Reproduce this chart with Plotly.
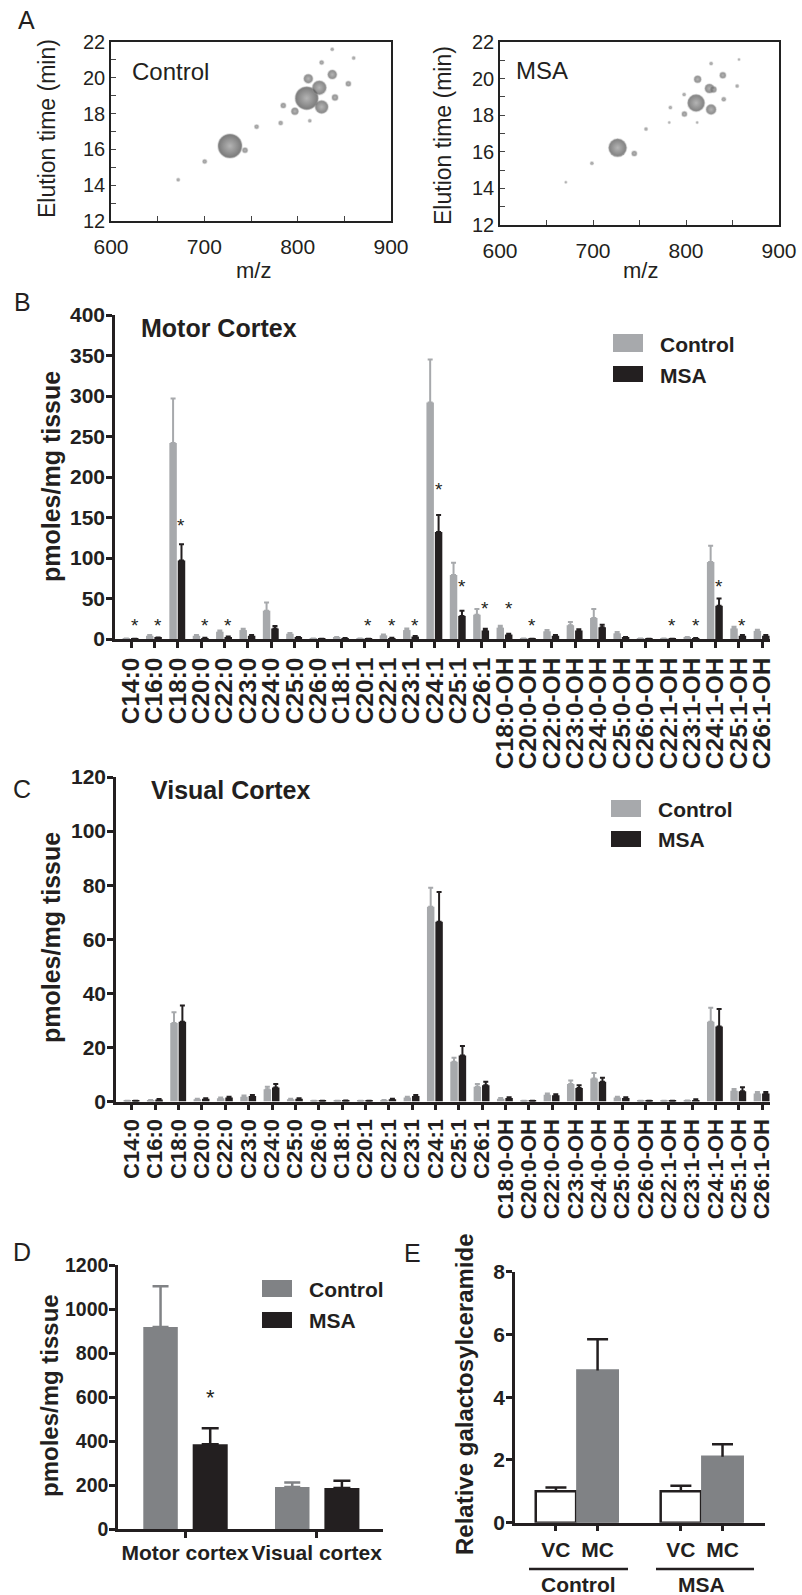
import plotly.graph_objects as go

W, H = 802, 1595
def px(x): return x / W
def py(y): return 1 - y / H

FONT = "Liberation Sans, Arial, Helvetica, sans-serif"
BLACK = "#231f20"
LGRAY = "#a7a9ac"
MGRAY = "#808285"

# ---------------- Panel A: LC-MS maps (m/z, elution time, relative intensity)
ctrl_mz = [727.5, 743.6, 700.4, 672.0, 756.0, 781.8, 784.6, 797.0, 809.7, 811.4, 823.2, 825.7, 837.1, 840.0, 825.7, 854.3, 860.0, 837.0, 813.0]
ctrl_t = [16.19, 15.95, 15.32, 14.30, 17.27, 17.47, 18.45, 18.13, 18.86, 19.95, 19.45, 18.37, 20.18, 18.90, 20.85, 19.67, 21.10, 21.60, 17.60]
ctrl_int = [24, 5, 4, 3, 4, 4, 5, 7, 23, 9, 14, 13, 9, 6, 4, 5, 3, 3, 3]

msa_mz = [726.5, 744.4, 698.8, 670.8, 757.0, 783.2, 782.0, 798.3, 798.0, 810.9, 812.5, 825.2, 829.5, 827.0, 839.6, 840.6, 827.0, 855.0, 857.0, 812.0]
msa_t = [16.22, 15.91, 15.37, 14.33, 17.24, 18.42, 17.60, 18.06, 19.13, 18.67, 19.96, 19.46, 19.40, 18.31, 20.18, 18.87, 20.82, 19.60, 21.05, 17.60]
msa_int = [18, 5, 3, 2, 3, 3, 2, 5, 3, 17, 7, 9, 6, 10, 6, 4, 3, 3, 2, 2]

# ---------------- Panels B and C: species
categories = ["C14:0", "C16:0", "C18:0", "C20:0", "C22:0", "C23:0", "C24:0", "C25:0", "C26:0",
              "C18:1", "C20:1", "C22:1", "C23:1", "C24:1", "C25:1", "C26:1",
              "C18:0-OH", "C20:0-OH", "C22:0-OH", "C23:0-OH", "C24:0-OH", "C25:0-OH", "C26:0-OH",
              "C22:1-OH", "C23:1-OH", "C24:1-OH", "C25:1-OH", "C26:1-OH"]

motor_control = [0.5, 4, 242, 4, 9, 11, 35, 6.5, 0.5, 2, 0.5, 4.5, 11, 292, 79, 30, 14, 0.5, 9.5, 17, 26, 7, 0.5, 0.5, 2, 95, 13, 10]
motor_control_err = [0.2, 1, 55, 1, 1.5, 1.5, 10, 1, 0.2, 0.5, 0.2, 1, 2, 53, 15, 7, 2.5, 0.2, 1.5, 4, 11, 1.5, 0.2, 0.2, 0.5, 20, 2, 1.5]
motor_msa = [0.3, 1.5, 97, 1.2, 2.5, 4, 13, 2, 0.3, 1, 0.3, 1.2, 3, 132, 28.5, 10.5, 5.5, 0.3, 4, 10.5, 14.5, 2, 0.3, 0.3, 1, 41, 4, 4]
motor_msa_err = [0.1, 0.3, 20, 0.3, 0.5, 0.8, 3, 0.5, 0.1, 0.2, 0.1, 0.3, 0.6, 21, 6.5, 2, 1, 0.1, 0.8, 1.5, 3, 0.5, 0.1, 0.1, 0.2, 9, 0.8, 0.8]
motor_star_cats = ["C14:0", "C16:0", "C18:0", "C20:0", "C22:0", "C20:1", "C22:1", "C23:1", "C24:1", "C25:1",
                   "C26:1", "C18:0-OH", "C20:0-OH", "C22:1-OH", "C23:1-OH", "C24:1-OH", "C25:1-OH"]
motor_star_y = [22, 22, 145, 22, 22, 22, 22, 22, 190, 70, 43, 43, 22, 22, 22, 70, 22]

visual_control = [0.2, 0.5, 29, 0.8, 1.2, 1.8, 4.5, 0.8, 0.2, 0.2, 0.2, 0.5, 1.5, 72, 14.7, 5.5, 1, 0.2, 2.5, 6.5, 8.5, 1.5, 0.2, 0.2, 0.3, 29.5, 4, 3]
visual_control_err = [0.1, 0.1, 4, 0.2, 0.3, 0.4, 1, 0.2, 0.1, 0.1, 0.1, 0.1, 0.3, 7, 1.5, 1, 0.3, 0.1, 0.5, 1.3, 2, 0.3, 0.1, 0.1, 0.1, 5.2, 0.6, 0.5]
visual_msa = [0.2, 0.7, 29.5, 1, 1.5, 2, 5.2, 1, 0.2, 0.3, 0.2, 0.8, 2, 66.5, 17, 6, 1.3, 0.2, 2.3, 5, 7.3, 1.3, 0.2, 0.2, 0.6, 27.7, 3.8, 3]
visual_msa_err = [0.1, 0.2, 6, 0.2, 0.3, 0.4, 1.3, 0.2, 0.1, 0.1, 0.1, 0.2, 0.4, 11, 3.5, 1.3, 0.3, 0.1, 0.4, 1, 1.5, 0.3, 0.1, 0.1, 0.2, 6.5, 1.5, 0.5]

# ---------------- Panel D: totals
regions = ["Motor cortex", "Visual cortex"]
total_control = [918, 192]
total_control_err = [185, 20]
total_msa = [386, 188]
total_msa_err = [73, 32]
total_star_y = [619]

# ---------------- Panel E: relative galactosylceramide
gal_pos = [0, 1, 3, 4]
gal_labels = ["VC", "MC", "VC", "MC"]
gal_values = [1.0, 4.85, 1.0, 2.1]
gal_err = [0.12, 1.0, 0.18, 0.4]
gal_groups = ["Control", "MSA"]

idx = list(range(len(categories)))

fig = go.Figure()

# ---- Panel A traces
for xa, ya, mz, t, inten in [("x", "y", ctrl_mz, ctrl_t, ctrl_int), ("x2", "y2", msa_mz, msa_t, msa_int)]:
    fig.add_trace(go.Scatter(
        x=mz, y=t, mode="markers", xaxis=xa, yaxis=ya,
        marker=dict(size=inten, sizemode="diameter", color=inten,
                    colorscale=[[0, "#9a9a9a"], [0.2, "#5e5e5e"], [1, "#404040"]],
                    cmin=0, cmax=24, line=dict(width=1.5, color="rgba(150,150,150,0.45)"),
                    gradient=dict(type="radial", color="#959595")),
        hoverinfo="skip"))

# ---- Panels B, C bars
CTRL_OFF, MSA_OFF, BW = -0.36, 0.0, 0.32
for xa, ya, c, ce, m, me in [("x3", "y3", motor_control, motor_control_err, motor_msa, motor_msa_err),
                             ("x4", "y4", visual_control, visual_control_err, visual_msa, visual_msa_err)]:
    fig.add_trace(go.Bar(x=idx, y=c, xaxis=xa, yaxis=ya, width=BW, offset=CTRL_OFF,
                         marker=dict(color=LGRAY, line=dict(width=0)),
                         error_y=dict(type="data", array=ce, arrayminus=[0] * len(ce), symmetric=False,
                                      color=LGRAY, thickness=2, width=2.5)))
    fig.add_trace(go.Bar(x=idx, y=m, xaxis=xa, yaxis=ya, width=BW, offset=MSA_OFF,
                         marker=dict(color=BLACK, line=dict(width=0)),
                         error_y=dict(type="data", array=me, arrayminus=[0] * len(me), symmetric=False,
                                      color=BLACK, thickness=2, width=2.5)))

# ---- Panel D
fig.add_trace(go.Bar(x=[0, 1], y=total_control, xaxis="x5", yaxis="y5", width=0.262, offset=-0.317,
                     marker=dict(color=MGRAY, line=dict(width=0)),
                     error_y=dict(type="data", array=total_control_err, arrayminus=[0, 0], symmetric=False,
                                  color=MGRAY, thickness=2.5, width=8)))
fig.add_trace(go.Bar(x=[0, 1], y=total_msa, xaxis="x5", yaxis="y5", width=0.266, offset=0.058,
                     marker=dict(color=BLACK, line=dict(width=0)),
                     error_y=dict(type="data", array=total_msa_err, arrayminus=[0, 0], symmetric=False,
                                  color=BLACK, thickness=2.5, width=8.5)))

# ---- Panel E (bars, then whiskers stacked on the bar tops with a cap)
fig.add_trace(go.Bar(x=gal_pos, y=gal_values, xaxis="x6", yaxis="y6", width=0.97,
                     marker=dict(color=["white", MGRAY, "white", MGRAY],
                                 line=dict(color=[BLACK, MGRAY, BLACK, MGRAY], width=2.5))))
fig.add_trace(go.Bar(x=gal_pos, y=gal_err, base=gal_values, xaxis="x6", yaxis="y6", width=0.06,
                     marker=dict(color=BLACK, line=dict(width=0)),
                     error_y=dict(type="data", array=[0] * 4, symmetric=True,
                                  color=BLACK, thickness=2.5, width=10.5)))

# ---------------- Axes
def dom_x(a, b): return [px(a), px(b)]
def dom_y(top, bottom): return [py(bottom), py(top)]

layout_axes = {}
# A left / right
for n, (x0, x1, y0, y1, xa, ya) in {"": (111, 391, 42, 221, "y", "x"), "2": (500, 779, 42, 225, "y2", "x2")}.items():
    layout_axes["xaxis" + n] = dict(domain=dom_x(x0, x1), range=[600, 900], anchor=xa, automargin=False,
                                    tickvals=[600, 700, 800, 900], ticks="inside", ticklen=5, tickwidth=1.2,
                                    minor=dict(dtick=50, tick0=600, ticks="inside", ticklen=5, tickwidth=1.2),
                                    showline=True, mirror=True, linecolor="#222", linewidth=1.5,
                                    showgrid=False, zeroline=False, tickfont=dict(family=FONT, size=21, color=BLACK),
                                    ticklabelstandoff=6)
    layout_axes["yaxis" + n] = dict(domain=dom_y(y0, y1), range=[12, 22], anchor=ya, automargin=False,
                                    tickvals=[12, 14, 16, 18, 20, 22], ticks="inside", ticklen=5, tickwidth=1.2,
                                    minor=dict(dtick=1, tick0=12, ticks="inside", ticklen=5, tickwidth=1.2),
                                    showline=True, mirror=True, linecolor="#222", linewidth=1.5,
                                    showgrid=False, zeroline=False, tickfont=dict(family=FONT, size=20, color=BLACK))

def bar_x(dom, rng, tickvals, ticktext, anchor, angle=0, size=20, standoff=0):
    return dict(domain=dom, range=rng, anchor=anchor, tickvals=tickvals, ticktext=ticktext, automargin=False,
                tickangle=angle, ticks="outside", ticklen=6, tickwidth=2.5, tickcolor=BLACK,
                showline=True, linecolor=BLACK, linewidth=2.5, showgrid=False, zeroline=False,
                tickfont=dict(family=FONT, size=size, color=BLACK, weight="bold"), ticklabelstandoff=standoff)

def bar_y(dom, rng, dtick, anchor, size=21):
    return dict(domain=dom, range=rng, anchor=anchor, tick0=0, dtick=dtick, ticks="outside", automargin=False,
                ticklen=6, tickwidth=2.5, tickcolor=BLACK, showline=True, linecolor=BLACK, linewidth=2.5,
                showgrid=False, zeroline=False, ticklabelstandoff=-3,
                tickfont=dict(family=FONT, size=size, color=BLACK, weight="bold"))

layout_axes["xaxis3"] = bar_x(dom_x(115, 770), [-0.685, 27.34], idx, categories, "y3", angle=-90, size=24.5)
layout_axes["yaxis3"] = bar_y(dom_y(315, 639), [0, 400], 50, "x3")
layout_axes["xaxis4"] = bar_x(dom_x(116, 770), [-0.685, 27.34], idx, categories, "y4", angle=-90, size=22)
layout_axes["yaxis4"] = bar_y(dom_y(777, 1101.5), [0, 120], 20, "x4")
layout_axes["xaxis5"] = bar_x(dom_x(118, 383), [-0.509, 1.503], [0, 1], regions, "y5", size=21, standoff=-3)
layout_axes["yaxis5"] = bar_y(dom_y(1265, 1529.3), [0, 1200], 200, "x5", size=19.5)
layout_axes["xaxis6"] = bar_x(dom_x(515, 765), [-0.983, 5.02], gal_pos, gal_labels, "y6", size=21, standoff=0)
layout_axes["yaxis6"] = bar_y(dom_y(1271.7, 1522.7), [0, 8], 2, "x6")

# ---------------- Annotations
ann = []
def text(x, y, s, size, bold=False, xanchor="center", yanchor="middle", angle=0):
    f = dict(family=FONT, size=size, color=BLACK)
    if bold:
        f["weight"] = "bold"
    ann.append(dict(x=px(x), y=py(y), xref="paper", yref="paper", text=s, showarrow=False,
                    xanchor=xanchor, yanchor=yanchor, textangle=angle, font=f))

# panel letters
text(26, 20, "A", 25)
text(22, 302, "B", 25)
text(22, 789, "C", 25)
text(22, 1252, "D", 25)
text(413, 1253, "E", 25)

# panel A texts
text(130, 72, "Control", 24, xanchor="left")
text(514, 70, "MSA", 24, xanchor="left")
text(47, 129, "Elution time (min)", 23, angle=-90)
text(443, 135, "Elution time (min)", 23, angle=-90)
text(253, 270, "m/z", 22)
text(640, 270, "m/z", 22)

# y titles
text(51, 476, "pmoles/mg tissue", 25, bold=True, angle=-90)
text(51, 937, "pmoles/mg tissue", 25, bold=True, angle=-90)
text(49, 1396, "pmoles/mg tissue", 24, bold=True, angle=-90)
text(464, 1394, "Relative galactosylceramide", 24, bold=True, angle=-90)

# panel titles
text(219, 328, "Motor Cortex", 25, bold=True)
text(230, 790, "Visual Cortex", 25, bold=True)

# legends (swatches + labels)
shapes = []
def rect(x0, y0, x1, y1, color):
    shapes.append(dict(type="rect", xref="paper", yref="paper", x0=px(x0), x1=px(x1), y0=py(y1), y1=py(y0),
                       fillcolor=color, line=dict(width=0)))
def line(x0, y, x1):
    shapes.append(dict(type="line", xref="paper", yref="paper", x0=px(x0), x1=px(x1), y0=py(y), y1=py(y),
                       line=dict(color=BLACK, width=2.5)))

rect(613, 334, 643, 352, LGRAY); text(658, 344, "Control", 21, bold=True, xanchor="left")
rect(613, 366, 643, 382, BLACK); text(658, 375, "MSA", 21, bold=True, xanchor="left")
rect(611, 800, 641, 817, LGRAY); text(656, 809, "Control", 21, bold=True, xanchor="left")
rect(611, 831, 641, 847, BLACK); text(656, 839, "MSA", 21, bold=True, xanchor="left")
rect(262, 1280, 292, 1297, MGRAY); text(307, 1289, "Control", 21, bold=True, xanchor="left")
rect(262, 1312, 292, 1328, BLACK); text(307, 1320, "MSA", 21, bold=True, xanchor="left")

# panel E group labels
line(529, 1569, 628)
line(656, 1569, 754)
text(578, 1584, gal_groups[0], 21, bold=True)
text(701, 1584, gal_groups[1], 21, bold=True)

# significance stars
for cname, yv in zip(motor_star_cats, motor_star_y):
    ann.append(dict(x=categories.index(cname) + MSA_OFF + BW / 2, y=yv, xref="x3", yref="y3", text="*",
                    showarrow=False, yshift=-4, font=dict(family=FONT, size=19, color=BLACK)))
for yv in total_star_y:
    ann.append(dict(x=0.058 + 0.133, y=yv, xref="x5", yref="y5", text="*", showarrow=False, yshift=-5,
                    font=dict(family=FONT, size=22, color=BLACK)))

fig.update_layout(width=W, height=H, margin=dict(l=0, r=0, t=0, b=0, pad=0, autoexpand=False), showlegend=False,
                  paper_bgcolor="white", plot_bgcolor="white", barmode="overlay",
                  annotations=ann, shapes=shapes, font=dict(family=FONT, color=BLACK), **layout_axes)

fig.write_html("out.html", config={"displayModeBar": False},
               post_script="document.body.style.margin='0';")
